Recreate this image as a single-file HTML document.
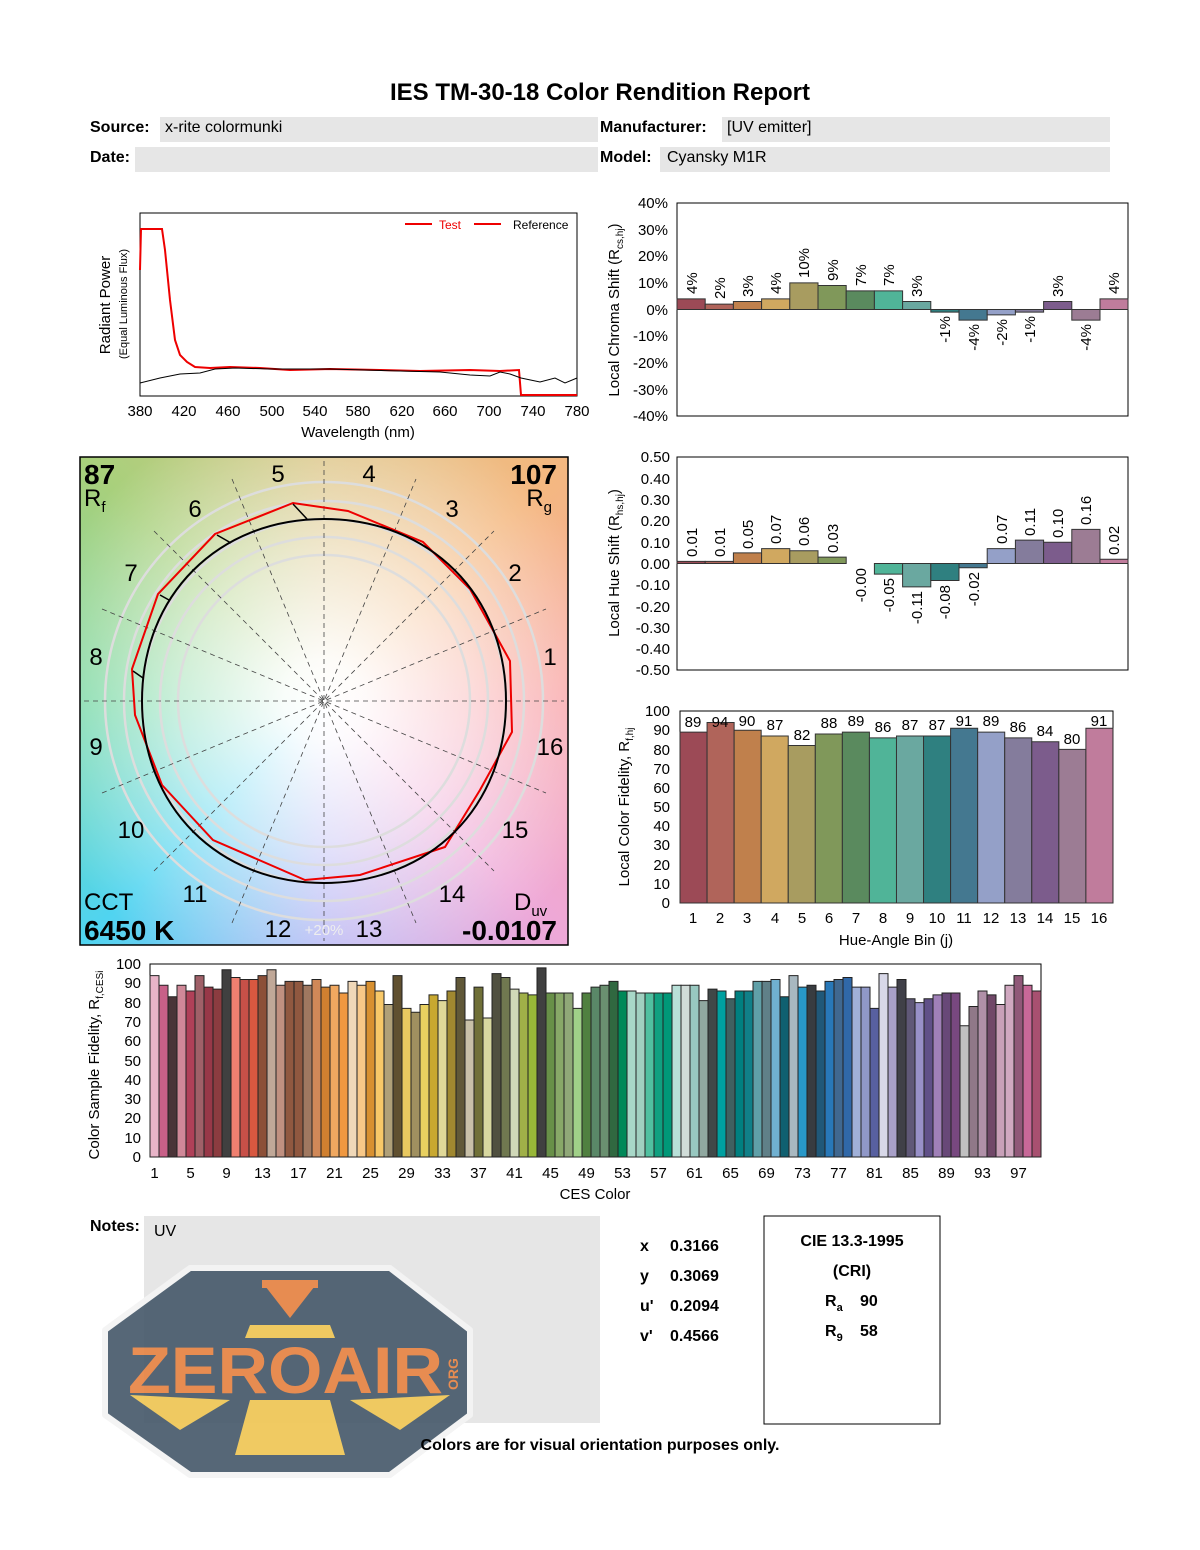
<!DOCTYPE html>
<html><head><meta charset="utf-8"><style>
html,body{margin:0;padding:0;background:#fff}
body{width:1200px;height:1550px;position:relative;overflow:hidden;font-family:"Liberation Sans",Arial,sans-serif}
#vg{position:absolute;left:80px;top:457px;width:488px;height:488px;
background:radial-gradient(circle at 50% 50%,#fff 0,rgba(255,255,255,.95) 40px,rgba(255,255,255,.6) 150px,rgba(255,255,255,0) 300px),
conic-gradient(from 0deg at 50% 50%,#dcc484 0deg,#f4b880 45deg,#f8a4a8 90deg,#eea8d8 135deg,#b4b4f4 180deg,#50d4f0 225deg,#78d8a4 270deg,#a8d07c 315deg,#dcc484 360deg)}
</style></head><body>
<div id="vg"></div>
<svg width="1200" height="1550" style="position:absolute;left:0;top:0" font-family="Liberation Sans, Arial, sans-serif">
<!-- header -->
<text x="600" y="100" font-size="24" font-weight="bold" text-anchor="middle">IES TM-30-18 Color Rendition Report</text>
<rect x="160" y="117" width="438" height="25" fill="#e6e6e6"/>
<rect x="135" y="147" width="463" height="25" fill="#e6e6e6"/>
<rect x="722" y="117" width="388" height="25" fill="#e6e6e6"/>
<rect x="660" y="147" width="450" height="25" fill="#e6e6e6"/>
<g font-size="16"><text x="90" y="132" font-weight="bold">Source:</text><text x="165" y="132">x-rite colormunki</text>
<text x="90" y="162" font-weight="bold">Date:</text>
<text x="600" y="132" font-weight="bold">Manufacturer:</text><text x="727" y="132">[UV emitter]</text>
<text x="600" y="162" font-weight="bold">Model:</text><text x="667" y="162">Cyansky M1R</text></g>

<!-- spectrum -->
<rect x="140" y="213" width="437" height="183" fill="none" stroke="#000"/>
<path d="M140,270 L141,229 L162,229 L165,250 L170,300 L175,340 L180,355 L187,362 L195,367 L210,368 L230,367 L260,368 L290,370 L330,369 L380,370 L420,371 L470,370 L500,371 L519,370 L521,395 L577,395" fill="none" stroke="#e00" stroke-width="2"/>
<path d="M140,383 L160,378 L180,374 L200,373 L215,369 L235,368 L270,369 L330,369 L400,371 L440,372 L470,375 L490,376 L500,372 L510,374 L521,378 L540,382 L555,378 L565,383 L577,378" fill="none" stroke="#000" stroke-width="1"/>
<line x1="405" y1="224" x2="432" y2="224" stroke="#e00" stroke-width="2"/><text x="439" y="229" font-size="12" fill="#e00">Test</text>
<line x1="474" y1="224" x2="501" y2="224" stroke="#e00" stroke-width="2"/><text x="513" y="229" font-size="12">Reference</text>
<g font-size="15" text-anchor="middle"><text x="140" y="416">380</text><text x="184" y="416">420</text><text x="228" y="416">460</text><text x="272" y="416">500</text><text x="315" y="416">540</text><text x="358" y="416">580</text><text x="402" y="416">620</text><text x="445" y="416">660</text><text x="489" y="416">700</text><text x="533" y="416">740</text><text x="577" y="416">780</text>
<text x="358" y="437">Wavelength (nm)</text></g>
<text transform="translate(110,305) rotate(-90)" font-size="15" text-anchor="middle">Radiant Power</text>
<text transform="translate(127,304) rotate(-90)" font-size="11" text-anchor="middle">(Equal Luminous Flux)</text>

<!-- chroma shift -->
<rect x="677" y="203" width="451" height="213" fill="none" stroke="#000"/>
<g font-size="15" text-anchor="end"><text x="668" y="208">40%</text><text x="668" y="235">30%</text><text x="668" y="261">20%</text><text x="668" y="288">10%</text><text x="668" y="315">0%</text><text x="668" y="341">-10%</text><text x="668" y="368">-20%</text><text x="668" y="395">-30%</text><text x="668" y="421">-40%</text></g>
<text transform="translate(619,310) rotate(-90)" font-size="15" text-anchor="middle">Local Chroma Shift (R<tspan font-size="10" dy="4">cs,hj</tspan><tspan dy="-4">)</tspan></text>
<g transform="translate(0,309.5) scale(1,-2.66)" stroke="#333" stroke-width="1">
<rect vector-effect="non-scaling-stroke" x="677" y="0" width="28.2" height="4" fill="#9c4a56"/>
<rect vector-effect="non-scaling-stroke" x="705.2" y="0" width="28.2" height="2" fill="#b0645a"/>
<rect vector-effect="non-scaling-stroke" x="733.4" y="0" width="28.2" height="3" fill="#c0804c"/>
<rect vector-effect="non-scaling-stroke" x="761.6" y="0" width="28.2" height="4" fill="#d0a860"/>
<rect vector-effect="non-scaling-stroke" x="789.8" y="0" width="28.2" height="10" fill="#a89c60"/>
<rect vector-effect="non-scaling-stroke" x="818" y="0" width="28.2" height="9" fill="#80985a"/>
<rect vector-effect="non-scaling-stroke" x="846.2" y="0" width="28.2" height="7" fill="#5a8a5e"/>
<rect vector-effect="non-scaling-stroke" x="874.4" y="0" width="28.2" height="7" fill="#50b498"/>
<rect vector-effect="non-scaling-stroke" x="902.6" y="0" width="28.2" height="3" fill="#6aa8a0"/>
<rect vector-effect="non-scaling-stroke" x="930.8" y="-1" width="28.2" height="1" fill="#2f8080"/>
<rect vector-effect="non-scaling-stroke" x="959" y="-4" width="28.2" height="4" fill="#447890"/>
<rect vector-effect="non-scaling-stroke" x="987.2" y="-2" width="28.2" height="2" fill="#94a0c8"/>
<rect vector-effect="non-scaling-stroke" x="1015.4" y="-1" width="28.2" height="1" fill="#847c9c"/>
<rect vector-effect="non-scaling-stroke" x="1043.6" y="0" width="28.2" height="3" fill="#7c5c8c"/>
<rect vector-effect="non-scaling-stroke" x="1071.8" y="-4" width="28.2" height="4" fill="#9c7c94"/>
<rect vector-effect="non-scaling-stroke" x="1100" y="0" width="28" height="4" fill="#c07c9c"/>
</g>
<g font-size="15">
<text transform="translate(697,294) rotate(-90)">4%</text>
<text transform="translate(725,299) rotate(-90)">2%</text>
<text transform="translate(753,297) rotate(-90)">3%</text>
<text transform="translate(781,294) rotate(-90)">4%</text>
<text transform="translate(809,278) rotate(-90)">10%</text>
<text transform="translate(838,281) rotate(-90)">9%</text>
<text transform="translate(866,286) rotate(-90)">7%</text>
<text transform="translate(894,286) rotate(-90)">7%</text>
<text transform="translate(922,297) rotate(-90)">3%</text>
<text transform="translate(950,316) rotate(-90)" text-anchor="end">-1%</text>
<text transform="translate(979,324) rotate(-90)" text-anchor="end">-4%</text>
<text transform="translate(1007,319) rotate(-90)" text-anchor="end">-2%</text>
<text transform="translate(1035,316) rotate(-90)" text-anchor="end">-1%</text>
<text transform="translate(1063,297) rotate(-90)">3%</text>
<text transform="translate(1091,324) rotate(-90)" text-anchor="end">-4%</text>
<text transform="translate(1119,294) rotate(-90)">4%</text>
</g>

<!-- hue shift -->
<rect x="677" y="457" width="451" height="213" fill="none" stroke="#000"/>
<g font-size="15" text-anchor="end"><text x="670" y="462">0.50</text><text x="670" y="484">0.40</text><text x="670" y="505">0.30</text><text x="670" y="526">0.20</text><text x="670" y="548">0.10</text><text x="670" y="569">0.00</text><text x="670" y="590">-0.10</text><text x="670" y="612">-0.20</text><text x="670" y="633">-0.30</text><text x="670" y="654">-0.40</text><text x="670" y="675">-0.50</text></g>
<text transform="translate(619,563) rotate(-90)" font-size="15" text-anchor="middle">Local Hue Shift (R<tspan font-size="10" dy="4">hs,hj</tspan><tspan dy="-4">)</tspan></text>
<g transform="translate(0,563.5) scale(1,-2.13)" stroke="#333">
<rect vector-effect="non-scaling-stroke" x="677" y="0" width="28.2" height="1" fill="#9c4a56"/>
<rect vector-effect="non-scaling-stroke" x="705.2" y="0" width="28.2" height="1" fill="#b0645a"/>
<rect vector-effect="non-scaling-stroke" x="733.4" y="0" width="28.2" height="5" fill="#c0804c"/>
<rect vector-effect="non-scaling-stroke" x="761.6" y="0" width="28.2" height="7" fill="#d0a860"/>
<rect vector-effect="non-scaling-stroke" x="789.8" y="0" width="28.2" height="6" fill="#a89c60"/>
<rect vector-effect="non-scaling-stroke" x="818" y="0" width="28.2" height="3" fill="#80985a"/>
<rect vector-effect="non-scaling-stroke" x="874.4" y="-5" width="28.2" height="5" fill="#50b498"/>
<rect vector-effect="non-scaling-stroke" x="902.6" y="-11" width="28.2" height="11" fill="#6aa8a0"/>
<rect vector-effect="non-scaling-stroke" x="930.8" y="-8" width="28.2" height="8" fill="#2f8080"/>
<rect vector-effect="non-scaling-stroke" x="959" y="-2" width="28.2" height="2" fill="#447890"/>
<rect vector-effect="non-scaling-stroke" x="987.2" y="0" width="28.2" height="7" fill="#94a0c8"/>
<rect vector-effect="non-scaling-stroke" x="1015.4" y="0" width="28.2" height="11" fill="#847c9c"/>
<rect vector-effect="non-scaling-stroke" x="1043.6" y="0" width="28.2" height="10" fill="#7c5c8c"/>
<rect vector-effect="non-scaling-stroke" x="1071.8" y="0" width="28.2" height="16" fill="#9c7c94"/>
<rect vector-effect="non-scaling-stroke" x="1100" y="0" width="28" height="2" fill="#c07c9c"/>
</g>
<g font-size="15">
<text transform="translate(697,557) rotate(-90)">0.01</text>
<text transform="translate(725,557) rotate(-90)">0.01</text>
<text transform="translate(753,549) rotate(-90)">0.05</text>
<text transform="translate(781,544) rotate(-90)">0.07</text>
<text transform="translate(809,546) rotate(-90)">0.06</text>
<text transform="translate(838,553) rotate(-90)">0.03</text>
<text transform="translate(866,568) rotate(-90)" text-anchor="end">-0.00</text>
<text transform="translate(894,578) rotate(-90)" text-anchor="end">-0.05</text>
<text transform="translate(922,591) rotate(-90)" text-anchor="end">-0.11</text>
<text transform="translate(950,585) rotate(-90)" text-anchor="end">-0.08</text>
<text transform="translate(979,572) rotate(-90)" text-anchor="end">-0.02</text>
<text transform="translate(1007,544) rotate(-90)">0.07</text>
<text transform="translate(1035,536) rotate(-90)">0.11</text>
<text transform="translate(1063,538) rotate(-90)">0.10</text>
<text transform="translate(1091,525) rotate(-90)">0.16</text>
<text transform="translate(1119,555) rotate(-90)">0.02</text>
</g>

<!-- Rf hj -->
<rect x="680" y="711" width="433" height="192" fill="none" stroke="#000"/>
<g font-size="15" text-anchor="end"><text x="670" y="716">100</text><text x="670" y="735">90</text><text x="670" y="755">80</text><text x="670" y="774">70</text><text x="670" y="793">60</text><text x="670" y="812">50</text><text x="670" y="831">40</text><text x="670" y="850">30</text><text x="670" y="870">20</text><text x="670" y="889">10</text><text x="670" y="908">0</text></g>
<text transform="translate(629,807) rotate(-90)" font-size="15" text-anchor="middle">Local Color Fidelity, R<tspan font-size="10" dy="4">f,hj</tspan></text>
<g transform="translate(0,903) scale(1,-1.92)" stroke="#333">
<rect vector-effect="non-scaling-stroke" x="680" y="0" width="27.06" height="89" fill="#9c4a56"/>
<rect vector-effect="non-scaling-stroke" x="707.06" y="0" width="27.06" height="94" fill="#b0645a"/>
<rect vector-effect="non-scaling-stroke" x="734.12" y="0" width="27.06" height="90" fill="#c0804c"/>
<rect vector-effect="non-scaling-stroke" x="761.18" y="0" width="27.06" height="87" fill="#d0a860"/>
<rect vector-effect="non-scaling-stroke" x="788.24" y="0" width="27.06" height="82" fill="#a89c60"/>
<rect vector-effect="non-scaling-stroke" x="815.3" y="0" width="27.06" height="88" fill="#80985a"/>
<rect vector-effect="non-scaling-stroke" x="842.36" y="0" width="27.06" height="89" fill="#5a8a5e"/>
<rect vector-effect="non-scaling-stroke" x="869.42" y="0" width="27.06" height="86" fill="#50b498"/>
<rect vector-effect="non-scaling-stroke" x="896.48" y="0" width="27.06" height="87" fill="#6aa8a0"/>
<rect vector-effect="non-scaling-stroke" x="923.54" y="0" width="27.06" height="87" fill="#2f8080"/>
<rect vector-effect="non-scaling-stroke" x="950.6" y="0" width="27.06" height="91" fill="#447890"/>
<rect vector-effect="non-scaling-stroke" x="977.66" y="0" width="27.06" height="89" fill="#94a0c8"/>
<rect vector-effect="non-scaling-stroke" x="1004.72" y="0" width="27.06" height="86" fill="#847c9c"/>
<rect vector-effect="non-scaling-stroke" x="1031.78" y="0" width="27.06" height="84" fill="#7c5c8c"/>
<rect vector-effect="non-scaling-stroke" x="1058.84" y="0" width="27.06" height="80" fill="#9c7c94"/>
<rect vector-effect="non-scaling-stroke" x="1085.9" y="0" width="27.06" height="91" fill="#c07c9c"/>
</g>
<g font-size="15" text-anchor="middle">
<text x="693" y="727">89</text><text x="720" y="727">94</text><text x="747" y="726">90</text><text x="775" y="730">87</text><text x="802" y="740">82</text><text x="829" y="728">88</text><text x="856" y="726">89</text><text x="883" y="732">86</text><text x="910" y="730">87</text><text x="937" y="730">87</text><text x="964" y="726">91</text><text x="991" y="726">89</text><text x="1018" y="732">86</text><text x="1045" y="736">84</text><text x="1072" y="744">80</text><text x="1099" y="726">91</text>
<text x="693" y="923">1</text><text x="720" y="923">2</text><text x="747" y="923">3</text><text x="775" y="923">4</text><text x="802" y="923">5</text><text x="829" y="923">6</text><text x="856" y="923">7</text><text x="883" y="923">8</text><text x="910" y="923">9</text><text x="937" y="923">10</text><text x="964" y="923">11</text><text x="991" y="923">12</text><text x="1018" y="923">13</text><text x="1045" y="923">14</text><text x="1072" y="923">15</text><text x="1099" y="923">16</text>
<text x="896" y="945">Hue-Angle Bin (j)</text></g>

<!-- vector graphic -->
<rect x="80" y="457" width="488" height="488" fill="none" stroke="#000" stroke-width="1.5"/>
<g fill="none" stroke="#ddd" stroke-width="2.5">
<circle cx="324" cy="701" r="146"/><circle cx="324" cy="701" r="164"/><circle cx="324" cy="701" r="182"/><circle cx="324" cy="701" r="200"/><circle cx="324" cy="701" r="219"/></g>
<g stroke="#444" stroke-width="0.8" stroke-dasharray="5,4">
<line x1="84" y1="701" x2="564" y2="701"/><line x1="324" y1="461" x2="324" y2="941"/>
<line x1="102" y1="609" x2="546" y2="793"/><line x1="102" y1="793" x2="546" y2="609"/>
<line x1="154" y1="531" x2="494" y2="871"/><line x1="154" y1="871" x2="494" y2="531"/>
<line x1="232" y1="479" x2="416" y2="923"/><line x1="232" y1="923" x2="416" y2="479"/></g>
<polygon points="510,661 512,732 480,790 445,847 360,875 305,880 213,840 162,785 135,715 132,669 158,594 215,534 293,503 348,511 423,542 470,589" fill="none" stroke="#e00" stroke-width="2"/>
<path d="M324,519 C430,519 506,595 506,701 C506,807 430,883 324,883 C218,883 142,807 142,701 C142,595 218,519 324,519 Z" fill="none" stroke="#000" stroke-width="2"/>
<g stroke="#000" stroke-width="1.5" fill="none">
<line x1="307" y1="519" x2="293" y2="504"/><line x1="231" y1="543" x2="217" y2="535"/><line x1="169" y1="600" x2="160" y2="595"/><line x1="143" y1="678" x2="133" y2="671"/></g>
<g font-size="24" text-anchor="middle">
<text x="550" y="665">1</text><text x="515" y="581">2</text><text x="452" y="517">3</text><text x="369" y="482">4</text><text x="278" y="482">5</text><text x="195" y="517">6</text><text x="131" y="581">7</text><text x="96" y="665">8</text><text x="96" y="755">9</text><text x="131" y="838">10</text><text x="195" y="902">11</text><text x="278" y="937">12</text><text x="369" y="937">13</text><text x="452" y="902">14</text><text x="515" y="838">15</text><text x="550" y="755">16</text></g>
<text x="324" y="935" font-size="15" fill="#eee" text-anchor="middle">+20%</text>
<text x="84" y="484" font-size="28" font-weight="bold">87</text>
<text x="84" y="506" font-size="24">R<tspan font-size="15" dy="6">f</tspan></text>
<text x="557" y="484" font-size="28" font-weight="bold" text-anchor="end">107</text>
<text x="552" y="506" font-size="24" text-anchor="end">R<tspan font-size="15" dy="6">g</tspan></text>
<text x="84" y="910" font-size="24">CCT</text>
<text x="84" y="940" font-size="28" font-weight="bold">6450 K</text>
<text x="514" y="910" font-size="24">D<tspan font-size="15" dy="6">uv</tspan></text>
<text x="557" y="940" font-size="28" font-weight="bold" text-anchor="end">-0.0107</text>

<!-- CES -->
<rect x="150" y="964" width="891" height="193" fill="none" stroke="#000"/>
<g font-size="15" text-anchor="end"><text x="141" y="969">100</text><text x="141" y="988">90</text><text x="141" y="1008">80</text><text x="141" y="1027">70</text><text x="141" y="1046">60</text><text x="141" y="1066">50</text><text x="141" y="1085">40</text><text x="141" y="1104">30</text><text x="141" y="1123">20</text><text x="141" y="1143">10</text><text x="141" y="1162">0</text></g>
<text transform="translate(99,1065) rotate(-90)" font-size="15" text-anchor="middle">Color Sample Fidelity, R<tspan font-size="10" dy="4">f,CESi</tspan></text>
<g transform="translate(0,1157) scale(1,-1.93)" stroke="#222">
<rect vector-effect="non-scaling-stroke" x="150" y="0" width="9" height="94" fill="#e8b4c8"/>
<rect vector-effect="non-scaling-stroke" x="159" y="0" width="9" height="89" fill="#c86088"/>
<rect vector-effect="non-scaling-stroke" x="168" y="0" width="9" height="83" fill="#4a3438"/>
<rect vector-effect="non-scaling-stroke" x="177" y="0" width="9" height="89" fill="#d08898"/>
<rect vector-effect="non-scaling-stroke" x="186" y="0" width="9" height="86" fill="#b04058"/>
<rect vector-effect="non-scaling-stroke" x="195" y="0" width="9" height="94" fill="#a06068"/>
<rect vector-effect="non-scaling-stroke" x="204" y="0" width="9" height="88" fill="#983848"/>
<rect vector-effect="non-scaling-stroke" x="213" y="0" width="9" height="87" fill="#8c3c40"/>
<rect vector-effect="non-scaling-stroke" x="222" y="0" width="9" height="97" fill="#404040"/>
<rect vector-effect="non-scaling-stroke" x="231" y="0" width="9" height="93" fill="#f08070"/>
<rect vector-effect="non-scaling-stroke" x="240" y="0" width="9" height="92" fill="#c85048"/>
<rect vector-effect="non-scaling-stroke" x="249" y="0" width="9" height="92" fill="#d85840"/>
<rect vector-effect="non-scaling-stroke" x="258" y="0" width="9" height="94" fill="#8c5038"/>
<rect vector-effect="non-scaling-stroke" x="267" y="0" width="9" height="97" fill="#c0a898"/>
<rect vector-effect="non-scaling-stroke" x="276" y="0" width="9" height="89" fill="#c09080"/>
<rect vector-effect="non-scaling-stroke" x="285" y="0" width="9" height="91" fill="#905840"/>
<rect vector-effect="non-scaling-stroke" x="294" y="0" width="9" height="91" fill="#905840"/>
<rect vector-effect="non-scaling-stroke" x="303" y="0" width="9" height="89" fill="#a07860"/>
<rect vector-effect="non-scaling-stroke" x="312" y="0" width="9" height="92" fill="#d08858"/>
<rect vector-effect="non-scaling-stroke" x="321" y="0" width="9" height="88" fill="#d08030"/>
<rect vector-effect="non-scaling-stroke" x="330" y="0" width="9" height="89" fill="#f0a860"/>
<rect vector-effect="non-scaling-stroke" x="339" y="0" width="9" height="85" fill="#f09840"/>
<rect vector-effect="non-scaling-stroke" x="348" y="0" width="9" height="91" fill="#f0d8b8"/>
<rect vector-effect="non-scaling-stroke" x="357" y="0" width="9" height="89" fill="#f8c888"/>
<rect vector-effect="non-scaling-stroke" x="366" y="0" width="9" height="91" fill="#d89030"/>
<rect vector-effect="non-scaling-stroke" x="375" y="0" width="9" height="86" fill="#f8c868"/>
<rect vector-effect="non-scaling-stroke" x="384" y="0" width="9" height="79" fill="#b0a078"/>
<rect vector-effect="non-scaling-stroke" x="393" y="0" width="9" height="94" fill="#605030"/>
<rect vector-effect="non-scaling-stroke" x="402" y="0" width="9" height="77" fill="#e8c860"/>
<rect vector-effect="non-scaling-stroke" x="411" y="0" width="9" height="75" fill="#a09060"/>
<rect vector-effect="non-scaling-stroke" x="420" y="0" width="9" height="79" fill="#e8d060"/>
<rect vector-effect="non-scaling-stroke" x="429" y="0" width="9" height="84" fill="#c8a830"/>
<rect vector-effect="non-scaling-stroke" x="438" y="0" width="9" height="81" fill="#e0d898"/>
<rect vector-effect="non-scaling-stroke" x="447" y="0" width="9" height="86" fill="#a08830"/>
<rect vector-effect="non-scaling-stroke" x="456" y="0" width="9" height="93" fill="#605838"/>
<rect vector-effect="non-scaling-stroke" x="465" y="0" width="9" height="71" fill="#c8c0a8"/>
<rect vector-effect="non-scaling-stroke" x="474" y="0" width="9" height="88" fill="#707038"/>
<rect vector-effect="non-scaling-stroke" x="483" y="0" width="9" height="72" fill="#d8d8a0"/>
<rect vector-effect="non-scaling-stroke" x="492" y="0" width="9" height="95" fill="#505040"/>
<rect vector-effect="non-scaling-stroke" x="501" y="0" width="9" height="93" fill="#707850"/>
<rect vector-effect="non-scaling-stroke" x="510" y="0" width="9" height="87" fill="#d0d8b8"/>
<rect vector-effect="non-scaling-stroke" x="519" y="0" width="9" height="85" fill="#a0b048"/>
<rect vector-effect="non-scaling-stroke" x="528" y="0" width="9" height="84" fill="#98b838"/>
<rect vector-effect="non-scaling-stroke" x="537" y="0" width="9" height="98" fill="#404040"/>
<rect vector-effect="non-scaling-stroke" x="546" y="0" width="9" height="85" fill="#689048"/>
<rect vector-effect="non-scaling-stroke" x="555" y="0" width="9" height="85" fill="#88a868"/>
<rect vector-effect="non-scaling-stroke" x="564" y="0" width="9" height="85" fill="#90a878"/>
<rect vector-effect="non-scaling-stroke" x="573" y="0" width="9" height="77" fill="#a0d088"/>
<rect vector-effect="non-scaling-stroke" x="582" y="0" width="9" height="85" fill="#508040"/>
<rect vector-effect="non-scaling-stroke" x="591" y="0" width="9" height="88" fill="#5a8868"/>
<rect vector-effect="non-scaling-stroke" x="600" y="0" width="9" height="89" fill="#6a9070"/>
<rect vector-effect="non-scaling-stroke" x="609" y="0" width="9" height="91" fill="#306840"/>
<rect vector-effect="non-scaling-stroke" x="618" y="0" width="9" height="86" fill="#008858"/>
<rect vector-effect="non-scaling-stroke" x="627" y="0" width="9" height="86" fill="#a8d8c8"/>
<rect vector-effect="non-scaling-stroke" x="636" y="0" width="9" height="85" fill="#a0d0c0"/>
<rect vector-effect="non-scaling-stroke" x="645" y="0" width="9" height="85" fill="#50c0a0"/>
<rect vector-effect="non-scaling-stroke" x="654" y="0" width="9" height="85" fill="#10a080"/>
<rect vector-effect="non-scaling-stroke" x="663" y="0" width="9" height="85" fill="#009878"/>
<rect vector-effect="non-scaling-stroke" x="672" y="0" width="9" height="89" fill="#b8e0d8"/>
<rect vector-effect="non-scaling-stroke" x="681" y="0" width="9" height="89" fill="#d0dcd8"/>
<rect vector-effect="non-scaling-stroke" x="690" y="0" width="9" height="89" fill="#98c8c0"/>
<rect vector-effect="non-scaling-stroke" x="699" y="0" width="9" height="81" fill="#90a8a0"/>
<rect vector-effect="non-scaling-stroke" x="708" y="0" width="9" height="87" fill="#404848"/>
<rect vector-effect="non-scaling-stroke" x="717" y="0" width="9" height="86" fill="#00a0a0"/>
<rect vector-effect="non-scaling-stroke" x="726" y="0" width="9" height="82" fill="#406060"/>
<rect vector-effect="non-scaling-stroke" x="735" y="0" width="9" height="86" fill="#008080"/>
<rect vector-effect="non-scaling-stroke" x="744" y="0" width="9" height="86" fill="#108088"/>
<rect vector-effect="non-scaling-stroke" x="753" y="0" width="9" height="91" fill="#60a0a8"/>
<rect vector-effect="non-scaling-stroke" x="762" y="0" width="9" height="91" fill="#608088"/>
<rect vector-effect="non-scaling-stroke" x="771" y="0" width="9" height="92" fill="#70b0d0"/>
<rect vector-effect="non-scaling-stroke" x="780" y="0" width="9" height="83" fill="#106070"/>
<rect vector-effect="non-scaling-stroke" x="789" y="0" width="9" height="94" fill="#a8b8c0"/>
<rect vector-effect="non-scaling-stroke" x="798" y="0" width="9" height="88" fill="#2898c8"/>
<rect vector-effect="non-scaling-stroke" x="807" y="0" width="9" height="89" fill="#383c40"/>
<rect vector-effect="non-scaling-stroke" x="816" y="0" width="9" height="86" fill="#205878"/>
<rect vector-effect="non-scaling-stroke" x="825" y="0" width="9" height="91" fill="#2878b8"/>
<rect vector-effect="non-scaling-stroke" x="834" y="0" width="9" height="92" fill="#406890"/>
<rect vector-effect="non-scaling-stroke" x="843" y="0" width="9" height="93" fill="#3068a8"/>
<rect vector-effect="non-scaling-stroke" x="852" y="0" width="9" height="88" fill="#a0b0d8"/>
<rect vector-effect="non-scaling-stroke" x="861" y="0" width="9" height="88" fill="#9098c8"/>
<rect vector-effect="non-scaling-stroke" x="870" y="0" width="9" height="77" fill="#5860a0"/>
<rect vector-effect="non-scaling-stroke" x="879" y="0" width="9" height="95" fill="#d8d8e8"/>
<rect vector-effect="non-scaling-stroke" x="888" y="0" width="9" height="88" fill="#a8a0c8"/>
<rect vector-effect="non-scaling-stroke" x="897" y="0" width="9" height="92" fill="#404048"/>
<rect vector-effect="non-scaling-stroke" x="906" y="0" width="9" height="82" fill="#605878"/>
<rect vector-effect="non-scaling-stroke" x="915" y="0" width="9" height="80" fill="#9890c8"/>
<rect vector-effect="non-scaling-stroke" x="924" y="0" width="9" height="82" fill="#605088"/>
<rect vector-effect="non-scaling-stroke" x="933" y="0" width="9" height="84" fill="#a080b8"/>
<rect vector-effect="non-scaling-stroke" x="942" y="0" width="9" height="85" fill="#684878"/>
<rect vector-effect="non-scaling-stroke" x="951" y="0" width="9" height="85" fill="#784880"/>
<rect vector-effect="non-scaling-stroke" x="960" y="0" width="9" height="68" fill="#c0c0c0"/>
<rect vector-effect="non-scaling-stroke" x="969" y="0" width="9" height="78" fill="#907888"/>
<rect vector-effect="non-scaling-stroke" x="978" y="0" width="9" height="86" fill="#b090a8"/>
<rect vector-effect="non-scaling-stroke" x="987" y="0" width="9" height="84" fill="#704868"/>
<rect vector-effect="non-scaling-stroke" x="996" y="0" width="9" height="79" fill="#c8a0b8"/>
<rect vector-effect="non-scaling-stroke" x="1005" y="0" width="9" height="89" fill="#d0a8c0"/>
<rect vector-effect="non-scaling-stroke" x="1014" y="0" width="9" height="94" fill="#905878"/>
<rect vector-effect="non-scaling-stroke" x="1023" y="0" width="9" height="89" fill="#c86898"/>
<rect vector-effect="non-scaling-stroke" x="1032" y="0" width="9" height="86" fill="#a85070"/>
</g>
<g font-size="15" text-anchor="middle">
<text x="154.5" y="1178">1</text><text x="190.5" y="1178">5</text><text x="226.5" y="1178">9</text><text x="262.5" y="1178">13</text><text x="298.5" y="1178">17</text><text x="334.5" y="1178">21</text><text x="370.5" y="1178">25</text><text x="406.5" y="1178">29</text><text x="442.5" y="1178">33</text><text x="478.5" y="1178">37</text><text x="514.5" y="1178">41</text><text x="550.5" y="1178">45</text><text x="586.5" y="1178">49</text><text x="622.5" y="1178">53</text><text x="658.5" y="1178">57</text><text x="694.5" y="1178">61</text><text x="730.5" y="1178">65</text><text x="766.5" y="1178">69</text><text x="802.5" y="1178">73</text><text x="838.5" y="1178">77</text><text x="874.5" y="1178">81</text><text x="910.5" y="1178">85</text><text x="946.5" y="1178">89</text><text x="982.5" y="1178">93</text><text x="1018.5" y="1178">97</text>
<text x="595" y="1199">CES Color</text></g>

<!-- notes -->
<text x="90" y="1231" font-size="16" font-weight="bold">Notes:</text>
<rect x="144" y="1216" width="456" height="207" fill="#e6e6e6"/>
<text x="154" y="1236" font-size="16">UV</text>
<g font-size="16" font-weight="bold">
<text x="640" y="1251">x</text><text x="670" y="1251">0.3166</text>
<text x="640" y="1281">y</text><text x="670" y="1281">0.3069</text>
<text x="640" y="1311">u'</text><text x="670" y="1311">0.2094</text>
<text x="640" y="1341">v'</text><text x="670" y="1341">0.4566</text></g>
<rect x="764" y="1216" width="176" height="208" fill="none" stroke="#000"/>
<g font-size="16" font-weight="bold">
<text x="852" y="1246" text-anchor="middle">CIE 13.3-1995</text>
<text x="852" y="1276" text-anchor="middle">(CRI)</text>
<text x="825" y="1306">R<tspan font-size="11" dy="5">a</tspan></text><text x="860" y="1306">90</text>
<text x="825" y="1336">R<tspan font-size="11" dy="5">9</tspan></text><text x="860" y="1336">58</text></g>

<!-- watermark -->
<g opacity="0.95">
<polygon points="190,1268 390,1268 470,1330 470,1415 390,1475 190,1475 105,1415 105,1330" fill="#4d5f70" stroke="#f4f4f4" stroke-width="6" stroke-linejoin="round"/>
<polygon points="262,1282 318,1282 290,1318" fill="#e8884a"/>
<rect x="262" y="1280" width="56" height="8" fill="#e8884a"/>
<polygon points="250,1325 330,1325 335,1338 245,1338" fill="#f0c85a"/>
<polygon points="250,1400 330,1400 345,1455 235,1455" fill="#f0c85a"/>
<polygon points="130,1395 230,1400 180,1430" fill="#f0c85a"/>
<polygon points="450,1395 350,1400 400,1430" fill="#f0c85a"/>
<text x="128" y="1393" font-size="66" font-weight="bold" fill="#e8884a" textLength="315" lengthAdjust="spacingAndGlyphs">ZEROAIR</text>
<text transform="translate(458,1390) rotate(-90)" font-size="14" font-weight="bold" fill="#e8884a">ORG</text>
</g>
<text x="600" y="1450" font-size="16" font-weight="bold" text-anchor="middle">Colors are for visual orientation purposes only.</text>
</svg>
</body></html>
